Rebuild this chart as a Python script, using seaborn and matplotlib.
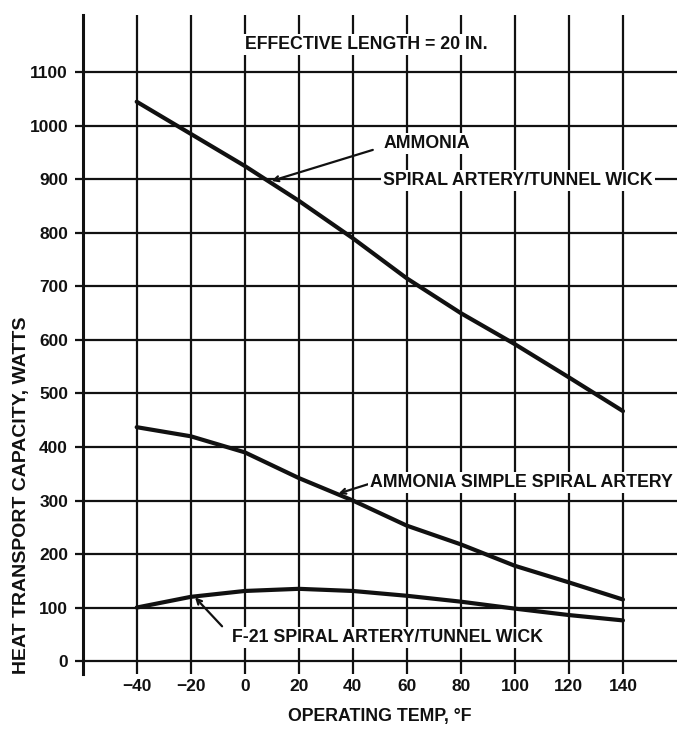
import pandas as pd
import seaborn as sns
import matplotlib.pyplot as plt

# values
temps = [-40, -20, 0, 20, 40, 60, 80, 100, 120, 140]
ammonia_tunnel = [1045, 985, 925, 860, 790, 715, 650, 592, 530, 467]
ammonia_simple = [437, 420, 390, 342, 300, 253, 218, 178, 147, 115]
f21_tunnel = [100, 120, 131, 135, 131, 122, 111, 98, 86, 76]

x_ticks = [-40, -20, 0, 20, 40, 60, 80, 100, 120, 140]
x_tick_labels = ["\u221240", "\u221220", "0", "20", "40", "60", "80", "100", "120", "140"]
y_ticks = [0, 100, 200, 300, 400, 500, 600, 700, 800, 900, 1000, 1100]
y_tick_labels = ["0", "100", "200", "300", "400", "500", "600", "700", "800", "900", "1000", "1100"]

sns.set_theme(style="white")
plt.rcParams["font.family"] = ["Liberation Sans", "DejaVu Sans"]
plt.rcParams["font.weight"] = "bold"

df = pd.DataFrame({
    "temp": temps * 3,
    "watts": ammonia_tunnel + ammonia_simple + f21_tunnel,
    "curve": ["tunnel"] * len(temps) + ["simple"] * len(temps) + ["f21"] * len(temps),
})

fig = plt.figure(figsize=(6.81, 7.36), dpi=100)
ax = fig.add_axes([0.1214, 0.0836, 0.8727, 0.896])

ink = "#111111"
sns.lineplot(data=df, x="temp", y="watts", hue="curve",
             palette={"tunnel": ink, "simple": ink, "f21": ink},
             linewidth=3, legend=False, ax=ax, zorder=3)

ax.set_xlim(-60, 160)
ax.set_ylim(-25, 1207)
ax.set_xticks(x_ticks, labels=x_tick_labels)
ax.set_yticks(y_ticks, labels=y_tick_labels)
ax.grid(True, color=ink, linewidth=1.6)
ax.set_axisbelow(True)

for s in ["top", "right", "bottom"]:
    ax.spines[s].set_visible(False)
ax.spines["left"].set_color(ink)
ax.spines["left"].set_linewidth(2.2)

ax.tick_params(axis="x", length=0, pad=3, labelsize=12.5, colors=ink)
ax.tick_params(axis="y", left=True, length=5.5, width=1.6, pad=5, labelsize=12.5, colors=ink)

ax.set_xlabel("OPERATING TEMP, \u00b0F", fontsize=12.8, fontweight="bold", color=ink)
ax.xaxis.set_label_coords(0.5, -0.051)
ax.set_ylabel("HEAT TRANSPORT CAPACITY, WATTS", fontsize=14, fontweight="bold", color=ink)
ax.yaxis.set_label_coords(-0.088, 0.272)

box = dict(facecolor="white", edgecolor="none", pad=1.5)
tkw = dict(fontsize=12.8, fontweight="bold", color=ink, va="center", ha="left", bbox=box, zorder=4)
akw = dict(arrowstyle="->", color=ink, lw=1.6, mutation_scale=9, shrinkA=0, shrinkB=0)

ax.text(0, 1152, "EFFECTIVE LENGTH = 20 IN.", **tkw)

ax.text(51.2, 967, "AMMONIA", **tkw)
ax.text(51.2, 898, "SPIRAL ARTERY/TUNNEL WICK", **tkw)
ax.annotate("", xy=(9.9, 897), xytext=(47.4, 955), arrowprops=akw)

ax.text(46.5, 333, "AMMONIA SIMPLE SPIRAL ARTERY", **tkw)
ax.annotate("", xy=(34.7, 313), xytext=(46.0, 331), arrowprops=akw)

ax.text(-4.9, 44, "F-21 SPIRAL ARTERY/TUNNEL WICK", **tkw)
ax.annotate("", xy=(-18.4, 119), xytext=(-8.4, 65), arrowprops=akw)

plt.savefig("out.png", dpi=100)
plt.close()
